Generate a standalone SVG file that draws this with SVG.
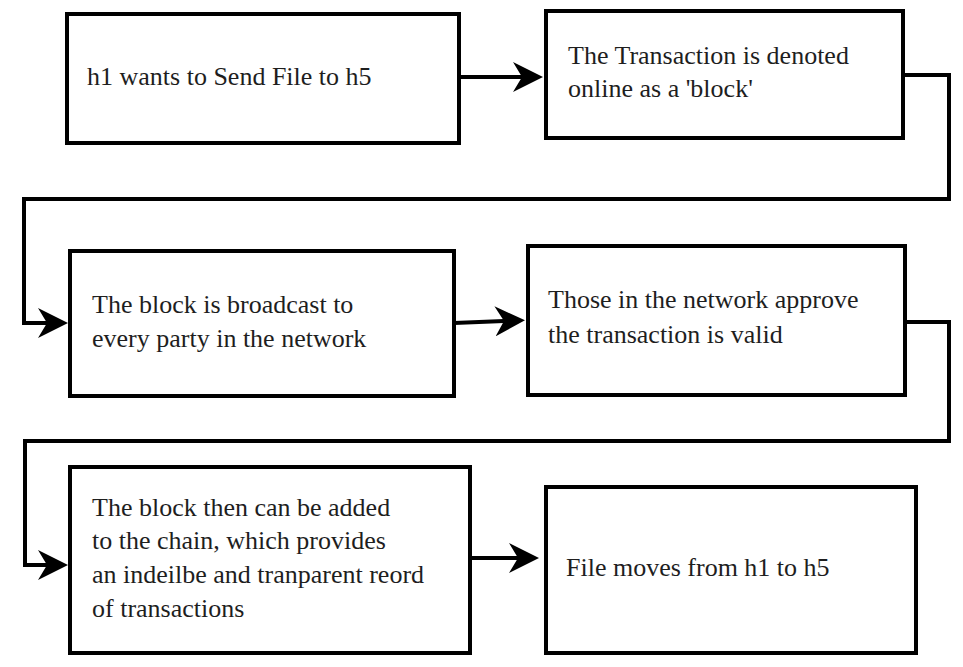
<svg xmlns="http://www.w3.org/2000/svg" width="963" height="667" viewBox="0 0 963 667">
  <style>
    .box { fill: #ffffff; stroke: #000000; stroke-width: 4; }
    .lbl { font-family: 'Liberation Serif', 'DejaVu Serif', serif; font-size: 26px; fill: #1e1e1e; }
    .conn { fill: none; stroke: #000000; stroke-width: 4; }
  </style>
  <defs>
    <marker id="arrow" markerUnits="userSpaceOnUse" markerWidth="30" markerHeight="30" refX="9" refY="15" orient="auto" viewBox="0 0 30 30">
      <path d="M0,0 L30,15 L0,30 L9,15 Z" fill="#000000"/>
    </marker>
  </defs>
  <rect x="0" y="0" width="963" height="667" fill="#ffffff"/>

  <g id="connectors">
    <path class="conn" d="M459,77 L522,77" marker-end="url(#arrow)"/>
    <path class="conn" d="M903,75 H949 V199 H24 V323 H47" marker-end="url(#arrow)"/>
    <path class="conn" d="M454,323 L504,321" marker-end="url(#arrow)"/>
    <path class="conn" d="M905,322 H949 V441 H25 V565 H47" marker-end="url(#arrow)"/>
    <path class="conn" d="M470,558 H518" marker-end="url(#arrow)"/>
  </g>

  <g id="node1">
    <rect class="box" x="67" y="14" width="392" height="129"/>
    <text class="lbl" font-family="Liberation Serif" x="87" y="85">h1 wants to Send File to h5</text>
  </g>
  <g id="node2">
    <rect class="box" x="546" y="11" width="357" height="127"/>
    <text class="lbl" x="568" y="64">The Transaction is denoted</text>
    <text class="lbl" x="568" y="97">online as a 'block'</text>
  </g>
  <g id="node3">
    <rect class="box" x="70" y="251" width="384" height="145"/>
    <text class="lbl" x="92" y="313">The block is broadcast to</text>
    <text class="lbl" x="92" y="347">every party in the network</text>
  </g>
  <g id="node4">
    <rect class="box" x="528" y="246" width="377" height="149"/>
    <text class="lbl" x="548" y="308">Those in the network approve</text>
    <text class="lbl" x="548" y="343">the transaction is valid</text>
  </g>
  <g id="node5">
    <rect class="box" x="70" y="467" width="400" height="186"/>
    <text class="lbl" x="92" y="516">The block then can be added</text>
    <text class="lbl" x="92" y="549">to the chain, which provides</text>
    <text class="lbl" x="92" y="583">an indeilbe and tranparent reord</text>
    <text class="lbl" x="92" y="617">of transactions</text>
  </g>
  <g id="node6">
    <rect class="box" x="546" y="487" width="370" height="166"/>
    <text class="lbl" x="566" y="576">File moves from h1 to h5</text>
  </g>
</svg>
